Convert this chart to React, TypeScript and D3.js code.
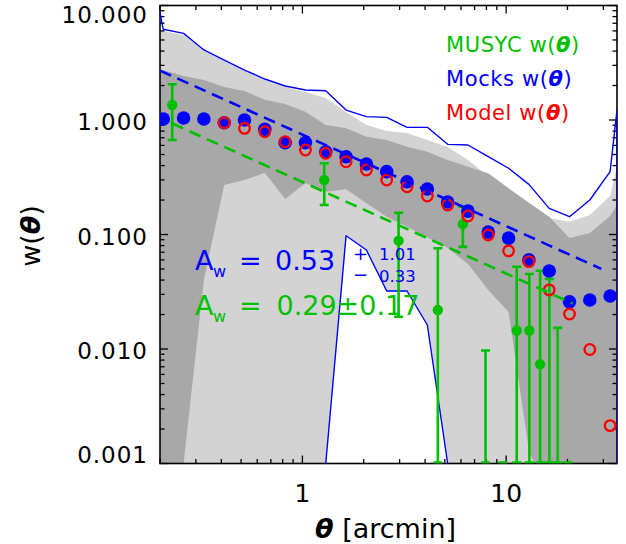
import React from 'react';
import * as d3 from 'd3';

// ---- data ----
const thetaBins = [0.2075, 0.2611, 0.3284, 0.4132, 0.5197, 0.6538, 0.8225, 1.035, 1.302, 1.638, 2.061, 2.593, 3.262, 4.104, 5.163, 6.494, 8.169, 10.28, 12.93, 16.27, 20.46, 25.74, 32.38];
const mocksW = [1.02, 1.04, 1.02, 0.947, 1.0, 0.83, 0.634, 0.634, 0.528, 0.478, 0.413, 0.354, 0.289, 0.25, 0.192, 0.16, 0.105, 0.093, 0.06, 0.048, 0.0258, 0.0268, 0.029];
const modelW = [null, null, null, 0.947, 0.846, 0.79, 0.646, 0.547, 0.512, 0.432, 0.366, 0.299, 0.261, 0.217, 0.181, 0.145, 0.099, 0.072, 0.058, 0.0328, 0.0202, 0.0099, 0.00214];

// envelope / bands (edge of plot, 23 bins, edge of plot); 0 = below the plotted range
const envTheta = [0.2, 0.2075, 0.2611, 0.3284, 0.4132, 0.5197, 0.6538, 0.8225, 1.035, 1.302, 1.638, 2.061, 2.593, 3.262, 4.104, 5.163, 6.494, 8.169, 10.28, 12.93, 16.27, 20.46, 25.74, 32.38, 35];
const envUpper = [8.6, 6.2, 5.71, 4.09, 3.34, 2.73, 2.28, 1.98, 1.83, 1.8, 1.22, 1.07, 1.055, 0.863, 0.863, 0.613, 0.605, 0.478, 0.379, 0.274, 0.169, 0.143, 0.2, 0.354, 1.22];
const envLower = [0, 0, 0, 0, 0, 0, 0, 0, 0, 0.001, 0.0976, 0.0732, 0.0321, 0.0321, 0.0162, 0.001, 0, 0, 0, 0, 0, 0, 0, 0, 0];
const band2Upper = [6.1, 6.0, 5.5, 4.0, 3.27, 2.68, 2.23, 1.94, 1.76, 1.56, 1.17, 0.904, 0.8, 0.77, 0.669, 0.581, 0.448, 0.324, 0.245, 0.188, 0.139, 0.129, 0.148, 0.217, 0.389];
const band1Upper = [2.73, 2.73, 2.42, 2.23, 1.94, 1.79, 1.5, 1.38, 1.18, 0.904, 0.846, 0.715, 0.669, 0.585, 0.529, 0.448, 0.391, 0.342, 0.253, 0.189, 0.143, 0.093, 0.103, 0.145, 0.181];
const band1Lower = [0, 0, 0.001, 0.0401, 0.271, 0.299, 0.346, 0.204, 0.28, 0.236, 0.248, 0.187, 0.143, 0.117, 0.0945, 0.0762, 0.0553, 0.0328, 0.021, 0.0013, 0, 0, 0, 0, 0];

// MUSYC measurements (0 = non-positive / below range)
const musycTheta = [0.2296, 1.28, 2.965, 4.62, 6.13, 7.92, 9.62, 11.27, 13.0, 14.68, 16.3, 17.9, 20.1];
const musycW = [1.352, 0.299, 0.0883, 0.0219, 0.1235, 0, 0, 0.0145, 0.0145, 0.00735, 0, 0, 0];
const musycHi = [2.05, 0.419, 0.155, 0.0758, 0.175, 0.0097, 0, 0.0523, 0.0452, 0.0483, 0.0409, 0.0153, 0];
const musycLo = [0.669, 0.181, 0.0191, 0, 0.078, 0, 0, 0, 0, 0, 0, 0, 0];

// power-law fits (end points)
const fitMocksTheta = [0.2, 29.3];
const fitMocksW = [2.7, 0.0501];
const fitMusycTheta = [0.2296, 21.2];
const fitMusycW = [0.932, 0.025];

const xTickLabels = ['1', '10'];
const legendLabels = ['MUSYC', 'Mocks', 'Model'];

const GREEN = '#00c000';
const BLUE = '#0000ff';
const RED = '#ff0000';
const LIGHT = '#d3d3d3';
const DARK = '#a8a8a8';
const FONT = 'DejaVu Sans';

const W = 626, H = 544;
const L = 160, R = 617, T = 5.5, B = 463.5;
const Y_MIN = 0.001, Y_MAX = 10;

export default function App() {
  const x = d3.scaleLog().domain([0.2, 35]).range([L, R]);
  const y = d3.scaleLog().domain([Y_MIN, Y_MAX]).range([B, T]);
  const yc = (v: number) => y(Math.max(v, Y_MIN * 0.5));

  const idx = envTheta.map((_, i) => i);
  const area2 = d3.area<number>().x(i => x(envTheta[i])).y0(i => yc(envLower[i])).y1(i => yc(band2Upper[i]));
  const area1 = d3.area<number>().x(i => x(envTheta[i])).y0(i => yc(band1Lower[i])).y1(i => yc(band1Upper[i]));

  const envPts: [number, number][] = [
    ...envTheta.map((t, i) => [x(t), yc(envUpper[i])] as [number, number]),
    ...envTheta.map((t, i) => [x(t), yc(envLower[i])] as [number, number]).reverse(),
  ];
  const line = d3.line();

  const xt = x.ticks();
  const yt = y.ticks();
  const isMajor = (v: number) => Math.abs(Math.log10(v) - Math.round(Math.log10(v))) < 1e-6;
  const yMajors = yt.filter(isMajor);
  const xMajors = xt.filter(isMajor);
  const fmt = d3.format('.3f');

  const capW = 4.5;

  return (
    <svg width={W} height={H} style={{ position: 'absolute', left: 0, top: 0, background: '#fff' }} fontFamily={FONT}>
      <defs>
        <clipPath id="plotClip">
          <rect x={L} y={T} width={R - L} height={B - T} />
        </clipPath>
      </defs>
      <rect x={0} y={0} width={W} height={H} fill="#fff" />
      <g clipPath="url(#plotClip)">
        <path d={area2(idx) || ''} fill={LIGHT} />
        <path d={area1(idx) || ''} fill={DARK} />
      </g>

      {/* frame and ticks */}
      <rect x={L} y={T} width={R - L} height={B - T} fill="none" stroke="#000" strokeWidth={1.6} />
      {xt.map((v, i) => {
        const len = isMajor(v) ? 8 : 4.5;
        const px = x(v);
        return (
          <g key={'xt' + i} stroke="#000" strokeWidth={1.3}>
            <line x1={px} x2={px} y1={B} y2={B - len} />
            <line x1={px} x2={px} y1={T} y2={T + len} />
          </g>
        );
      })}
      {yt.map((v, i) => {
        const len = isMajor(v) ? 8 : 4.5;
        const py = y(v);
        return (
          <g key={'yt' + i} stroke="#000" strokeWidth={1.3}>
            <line x1={L} x2={L + len} y1={py} y2={py} />
            <line x1={R} x2={R - len} y1={py} y2={py} />
          </g>
        );
      })}

      <g clipPath="url(#plotClip)">
        <path d={line(envPts) || ''} fill="none" stroke={BLUE} strokeWidth={1.4} strokeLinejoin="round" />

        {/* MUSYC error bars */}
        {musycTheta.map((t, i) => {
          const px = x(t);
          const hi = musycHi[i];
          const lo = musycLo[i];
          const yLo = lo > Y_MIN ? y(lo) : B - 1;
          const parts = [] as any[];
          if (hi > Y_MIN) {
            parts.push(<line key="v" x1={px} x2={px} y1={y(hi)} y2={yLo} />);
            parts.push(<line key="t" x1={px - capW} x2={px + capW} y1={y(hi)} y2={y(hi)} />);
          }
          parts.push(<line key="b" x1={px - capW} x2={px + capW} y1={yLo} y2={yLo} />);
          return (
            <g key={'eb' + i} stroke={GREEN} strokeWidth={2.6}>
              {parts}
            </g>
          );
        })}
        {musycTheta.map((t, i) =>
          musycW[i] > Y_MIN ? <circle key={'gd' + i} cx={x(t)} cy={y(musycW[i])} r={5.2} fill={GREEN} /> : null
        )}

        {/* Mocks */}
        {thetaBins.map((t, i) => (
          <circle key={'bd' + i} cx={x(t)} cy={y(mocksW[i])} r={6.8} fill={BLUE} />
        ))}
        {/* Model */}
        {thetaBins.map((t, i) =>
          modelW[i] != null ? (
            <circle key={'rd' + i} cx={x(t)} cy={y(modelW[i] as number)} r={5.3} fill="none" stroke={RED} strokeWidth={2.3} />
          ) : null
        )}

        {/* fits */}
        <path d={line(fitMocksTheta.map((t, i) => [x(t), y(fitMocksW[i])] as [number, number])) || ''} stroke={BLUE} strokeWidth={2.6} strokeDasharray="12 7" fill="none" />
        <path d={line(fitMusycTheta.map((t, i) => [x(t), y(fitMusycW[i])] as [number, number])) || ''} stroke={GREEN} strokeWidth={2.6} strokeDasharray="12 7" fill="none" />
      </g>

      {/* y tick labels */}
      {yMajors.map((v, i) => {
        const py = Math.min(Math.max(y(v) + 2, 15), 455);
        return (
          <text key={'yl' + i} x={148} y={py} textAnchor="end" dominantBaseline="central" fontSize={23} letterSpacing={1} fill="#000">
            {fmt(v)}
          </text>
        );
      })}
      {/* x tick labels */}
      {xMajors.map((v, i) => (
        <text key={'xl' + i} x={x(v)} y={502} textAnchor="middle" fontSize={25} fill="#000">
          {xTickLabels[i]}
        </text>
      ))}

      {/* axis titles */}
      <text x={315} y={538} fontSize={27} fill="#000">
        <tspan fontStyle="italic" fontWeight="bold">θ</tspan>
        <tspan> [arcmin]</tspan>
      </text>
      <text transform="translate(40,236) rotate(-90)" textAnchor="middle" fontSize={27} fill="#000">
        <tspan>w(</tspan>
        <tspan fontStyle="italic" fontWeight="bold">θ</tspan>
        <tspan>)</tspan>
      </text>

      {/* legend */}
      {legendLabels.map((lab, i) => (
        <text key={'lg' + i} x={446} y={51.7 + i * 34.2} fontSize={21} letterSpacing={0.6} fill={[GREEN, BLUE, RED][i]}>
          <tspan>{lab} w(</tspan>
          <tspan fontStyle="italic" fontWeight="bold">θ</tspan>
          <tspan>)</tspan>
        </text>
      ))}

      {/* annotations */}
      <g fill={BLUE}>
        <text x={195} y={270} fontSize={27}>A</text>
        <text x={213} y={277} fontSize={16}>w</text>
        <text x={239} y={270} fontSize={27}>=</text>
        <text x={275} y={270} fontSize={27}>0.53</text>
        <text x={353} y={260} fontSize={18}>+</text>
        <text x={379} y={259.5} fontSize={16.5}>1.01</text>
        <text x={353} y={281} fontSize={18}>−</text>
        <text x={379} y={281.5} fontSize={16.5}>0.33</text>
      </g>
      <g fill={GREEN}>
        <text x={195} y={315} fontSize={27}>A</text>
        <text x={213} y={322} fontSize={16}>w</text>
        <text x={239} y={315} fontSize={27}>=</text>
        <text x={276.5} y={315} fontSize={27}>0.29±0.17</text>
      </g>
    </svg>
  );
}
